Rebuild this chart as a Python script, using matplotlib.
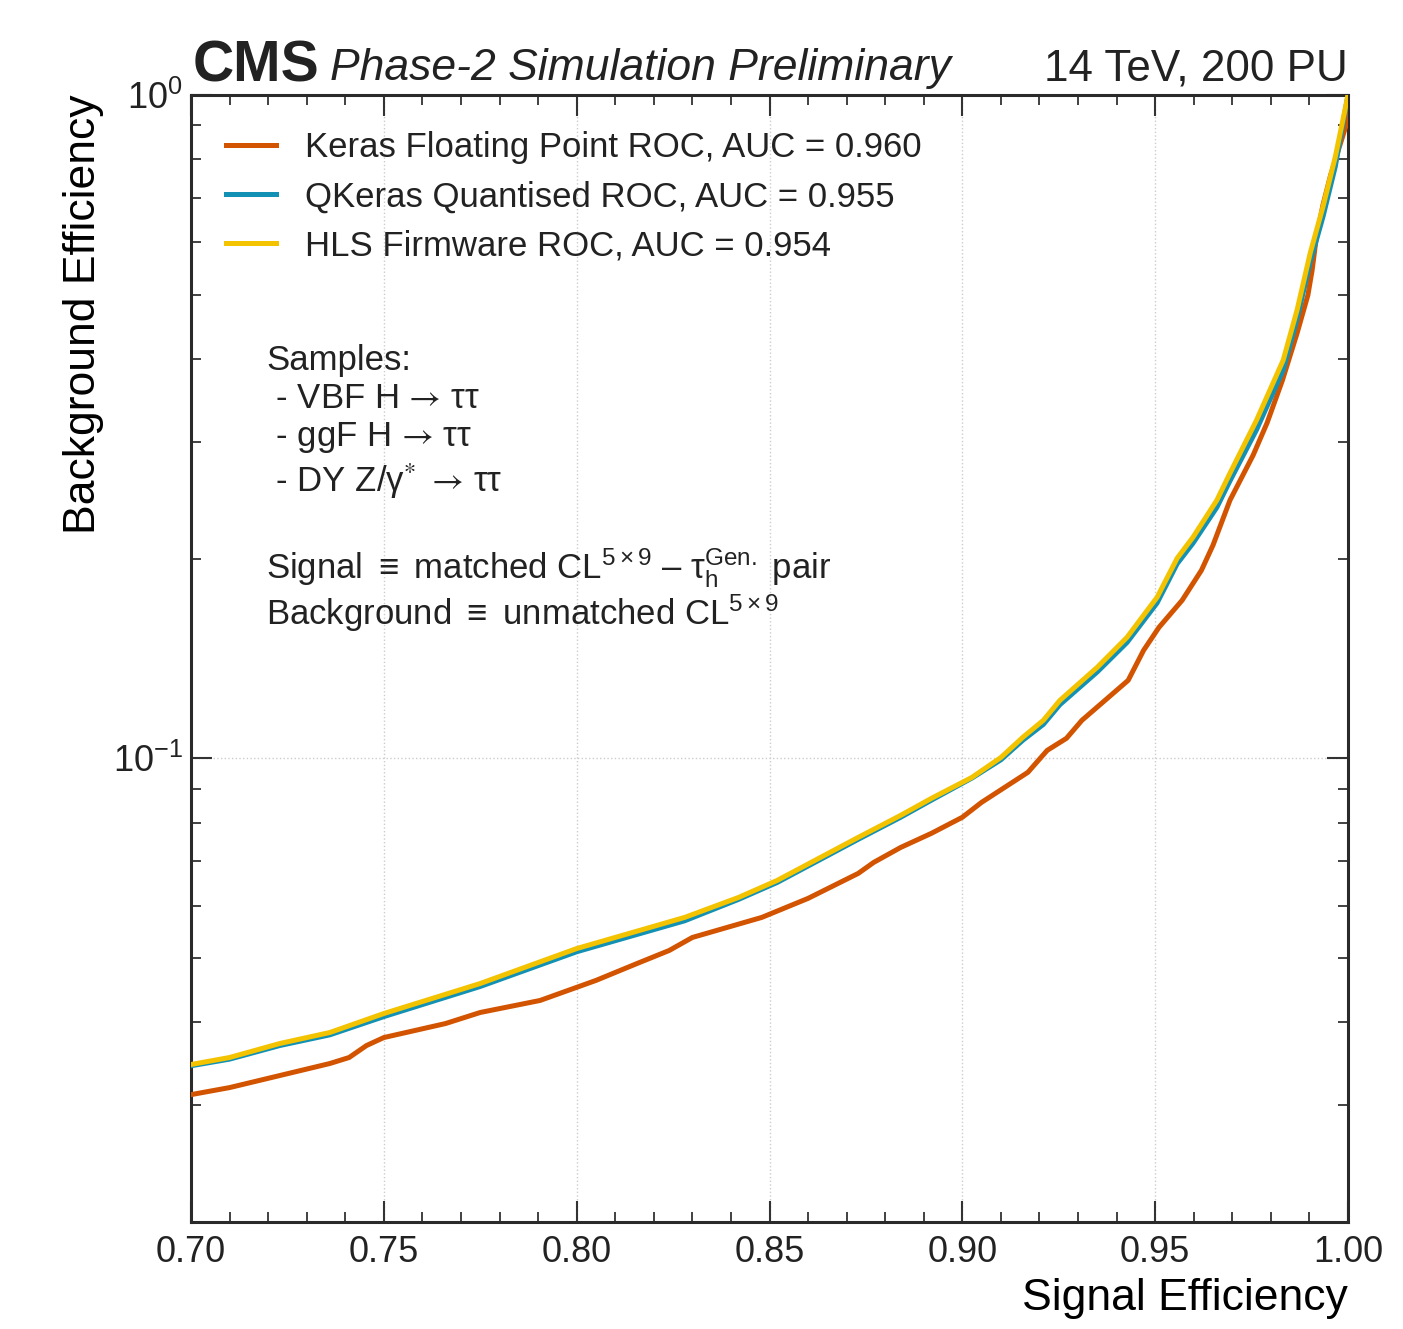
import matplotlib
matplotlib.use("Agg")
import matplotlib.pyplot as plt
from matplotlib.ticker import MultipleLocator, LogLocator, NullFormatter, FormatStrFormatter, FixedLocator

W, H = 1403, 1329
plt.rcParams['font.family'] = ['Liberation Sans', 'DejaVu Sans']
plt.rcParams['mathtext.fontset'] = 'custom'
plt.rcParams['mathtext.rm'] = 'Liberation Sans'
plt.rcParams['mathtext.it'] = 'Liberation Sans:italic'
plt.rcParams['mathtext.bf'] = 'Liberation Sans:bold'
plt.rcParams['text.color'] = '#222222'

# ---------------- data ----------------
series_names = ["Keras Floating Point ROC, AUC = 0.960",
                "QKeras Quantised ROC, AUC = 0.955",
                "HLS Firmware ROC, AUC = 0.954"]
series_colors = ["#D35400", "#1391B4", "#F3C300"]

keras_sig = [0.700, 0.710, 0.723, 0.736, 0.741, 0.7455, 0.750, 0.766, 0.775, 0.7905,
             0.805, 0.8157, 0.824, 0.830, 0.848, 0.860, 0.873, 0.877, 0.884, 0.892,
             0.900, 0.905, 0.917, 0.922, 0.927, 0.931, 0.937, 0.943, 0.947, 0.951,
             0.957, 0.962, 0.965, 0.9694, 0.9754, 0.979, 0.983, 0.9868, 0.9896, 0.9907,
             0.9917, 0.9935, 0.9955, 0.9975, 0.9997, 1.000]
keras_bkg = [0.03112, 0.03189, 0.03325, 0.03467, 0.03540, 0.03690, 0.03794, 0.03983, 0.04139, 0.04315,
             0.04626, 0.04907, 0.05133, 0.05370, 0.05757, 0.06150, 0.06707, 0.06967, 0.07339, 0.07709,
             0.08150, 0.08584, 0.09526, 0.1028, 0.1072, 0.1141, 0.1223, 0.1311, 0.1455, 0.1576,
             0.1731, 0.1921, 0.2096, 0.2450, 0.2864, 0.3202, 0.3716, 0.4375, 0.4993, 0.5445,
             0.6044, 0.6826, 0.7573, 0.8260, 0.9075, 1.000]

hls_sig = [0.700, 0.710, 0.723, 0.736, 0.750, 0.775, 0.800, 0.828, 0.842, 0.852,
           0.873, 0.884, 0.892, 0.9025, 0.910, 0.9157, 0.921, 0.9253, 0.935, 0.9427,
           0.9505, 0.9557, 0.9598, 0.966, 0.9694, 0.9763, 0.9832, 0.9868, 0.9902, 0.9935,
           0.9967, 1.000]
hls_bkg = [0.03455, 0.03540, 0.03716, 0.03861, 0.04124, 0.04577, 0.05167, 0.05757, 0.06171, 0.06546,
           0.07600, 0.08204, 0.08704, 0.09361, 0.1003, 0.1076, 0.1141, 0.1223, 0.1372, 0.1522,
           0.1749, 0.2003, 0.2154, 0.2450, 0.2691, 0.3236, 0.3984, 0.4741, 0.5777, 0.6780,
           0.8064, 1.000]

qkeras_sig = hls_sig
qkeras_bkg = [0.0344, 0.0352, 0.0369, 0.0383, 0.0408, 0.0453, 0.0511, 0.0569, 0.0613, 0.0650,
              0.0755, 0.0815, 0.0865, 0.0934, 0.0995, 0.1065, 0.1125, 0.1205, 0.1350, 0.1495,
              0.1715, 0.1965, 0.2110, 0.2390, 0.2620, 0.3130, 0.3850, 0.4600, 0.5600, 0.6550,
              0.7800, 1.000]

x_ticks = [0.70, 0.75, 0.80, 0.85, 0.90, 0.95, 1.00]

# ---------------- figure ----------------
fig = plt.figure(figsize=(W / 100, H / 100), dpi=100)
L, R, T, B = 191, 1348, 95, 1222
ax = fig.add_axes([L / W, 1 - B / H, (R - L) / W, (B - T) / H])

ax.plot(keras_sig, keras_bkg, color=series_colors[0], lw=3.6, label=series_names[0], zorder=3)
ax.plot(qkeras_sig, qkeras_bkg, color=series_colors[1], lw=3.6, label=series_names[1], zorder=4)
ax.plot(hls_sig, hls_bkg, color=series_colors[2], lw=3.6, label=series_names[2], zorder=5)

ax.set_yscale('log')
ax.set_xlim(0.70, 1.00)
ax.set_ylim(0.02, 1.0)

ax.xaxis.set_major_locator(FixedLocator(x_ticks))
ax.xaxis.set_major_formatter(FormatStrFormatter('%.2f'))
ax.xaxis.set_minor_locator(MultipleLocator(0.01))
ax.yaxis.set_major_locator(LogLocator(base=10, numticks=10))
ax.yaxis.set_minor_locator(LogLocator(base=10, subs=[2, 3, 4, 5, 6, 7, 8, 9], numticks=20))
ax.yaxis.set_minor_formatter(NullFormatter())

ax.tick_params(which='both', direction='in', top=True, right=True, colors='#333333',
               labelcolor='#222222')
ax.tick_params(which='major', length=15, width=1.5, labelsize=26, pad=9)
ax.tick_params(which='minor', length=7.5, width=1.3)
ax.tick_params(axis='y', which='major', pad=6)
for s in ax.spines.values():
    s.set_linewidth(2.2)
    s.set_color('#2a2a2a')

ax.grid(which='major', linestyle=':', color='#cccccc', lw=1.0, zorder=0)

ax.set_xlabel("Signal Efficiency", fontsize=32, loc='right', labelpad=6)
ax.set_ylabel("Background Efficiency", fontsize=32, loc='top', labelpad=6.5)

leg = ax.legend(loc='upper left', bbox_to_anchor=((226 - L) / (R - L), (B - 131) / (B - T)),
                frameon=False, fontsize=25, handlelength=1.45, handletextpad=0.83,
                labelspacing=0.47, borderpad=0, borderaxespad=0)
for t in leg.get_texts():
    t.set_color('#222222')

def px(x, y):
    return x / W, 1 - y / H

# header
fig.text(*px(193, 82), "CMS", fontsize=41, fontweight='bold', ha='left', va='baseline', color='#222222')
fig.text(*px(330, 80), "Phase-2 Simulation Preliminary", fontsize=32, style='italic',
         ha='left', va='baseline', color='#222222')
fig.text(*px(1348, 80), "14 TeV, 200 PU", fontsize=31.7, ha='right', va='baseline', color='#222222')

# annotations
fs = 25
arrow = "$\\,\\rightarrow\\,$"
fig.text(*px(266, 370), "Samples:", fontsize=fs, ha='left', va='baseline')
fig.text(*px(266, 408), " - VBF H" + arrow + "\u03c4\u03c4", fontsize=fs, ha='left', va='baseline',
         math_fontfamily='stixsans')
fig.text(*px(266, 446), " - ggF H" + arrow + "\u03c4\u03c4", fontsize=fs, ha='left', va='baseline',
         math_fontfamily='stixsans')
fig.text(*px(266, 492), " - DY Z/\u03b3$^{*}$ $\\rightarrow\\,$\u03c4\u03c4", fontsize=fs, ha='left',
         va='baseline', math_fontfamily='stixsans')
fig.text(*px(266, 578),
         "Signal $\\equiv$ matched CL$^{5\\times9}$ \u2013 \u03c4$_{\\mathrm{h}}^{\\mathrm{Gen.}}$ pair",
         fontsize=fs, ha='left', va='baseline')
fig.text(*px(266, 625), "Background $\\equiv$ unmatched CL$^{5\\times9}$", fontsize=fs,
         ha='left', va='baseline')

fig.savefig("out.png", dpi=100)
